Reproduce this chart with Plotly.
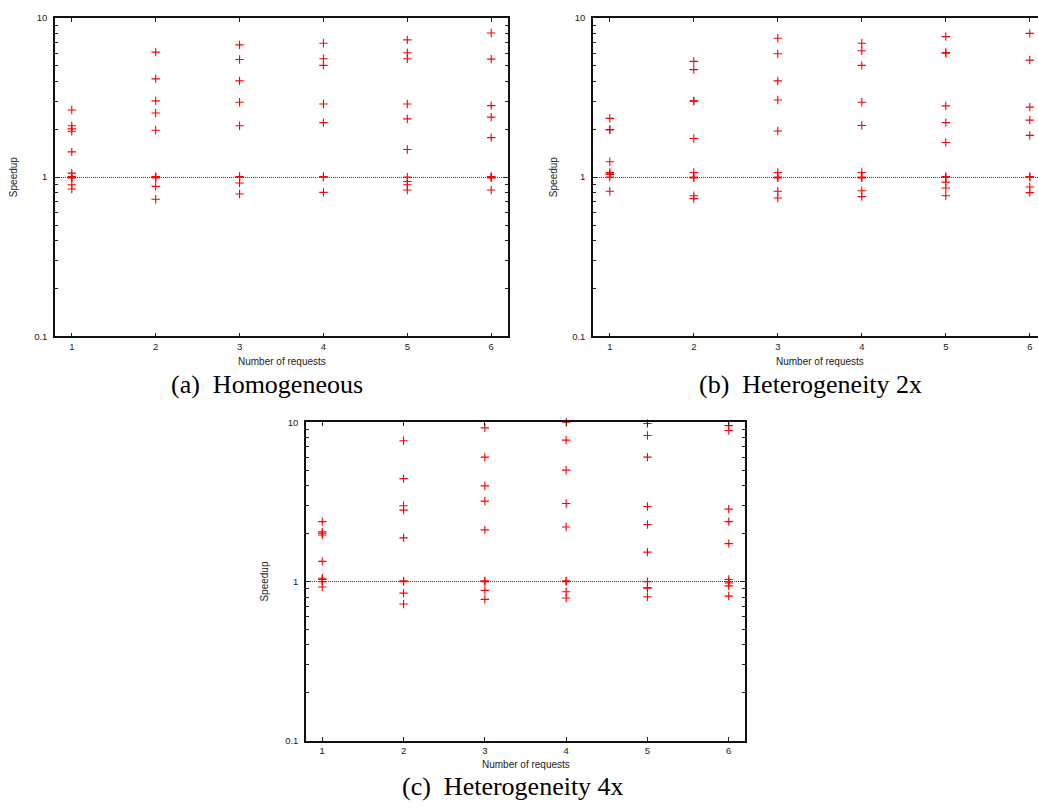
import plotly.graph_objects as go

# ---------------- data ----------------
requests = [1, 2, 3, 4, 5, 6]

homog_1 = [2.64, 2.10, 2.01, 1.94, 1.44, 1.06, 1.01, 1.0, 0.99, 0.896, 0.842]
homog_2 = [6.09, 4.14, 3.01, 2.53, 1.97, 1.01, 1.0, 0.99, 0.875, 0.727]
homog_3 = [6.77, 5.48, 4.02, 2.95, 2.10, 1.01, 1.0, 0.918, 0.784]
homog_4 = [6.92, 5.54, 5.03, 2.88, 2.20, 1.01, 1.0, 0.803]
homog_5 = [7.27, 6.04, 5.54, 2.88, 2.32, 1.49, 1.0, 0.94, 0.896, 0.83]
homog_6 = [8.03, 5.51, 2.81, 2.38, 1.77, 1.01, 1.0, 0.99, 0.83]

het2_1 = [2.34, 1.99, 1.98, 1.25, 1.07, 1.05, 1.04, 1.0, 0.815]
het2_2 = [5.33, 4.73, 3.01, 3.0, 1.75, 1.07, 1.0, 0.99, 0.765, 0.733]
het2_3 = [7.44, 5.95, 4.02, 3.05, 1.95, 1.07, 1.0, 0.99, 0.815, 0.74]
het2_4 = [6.92, 6.21, 5.03, 2.95, 2.11, 1.07, 1.0, 0.99, 0.822, 0.755]
het2_5 = [7.62, 6.06, 6.0, 2.80, 2.20, 1.65, 1.01, 1.0, 0.93, 0.855, 0.765]
het2_6 = [7.99, 5.43, 2.75, 2.28, 1.83, 1.01, 1.0, 0.867, 0.80]

het4_1 = [2.38, 2.05, 2.01, 1.96, 1.34, 1.05, 1.03, 1.0, 0.925]
het4_2 = [7.65, 4.43, 2.99, 2.81, 1.88, 1.01, 1.0, 0.846, 0.723]
het4_3 = [9.22, 6.04, 3.99, 3.20, 2.11, 1.01, 1.0, 0.88, 0.773]
het4_4 = [10.0, 7.73, 5.01, 3.09, 2.20, 1.01, 1.0, 0.863, 0.788]
het4_5 = [9.82, 8.26, 6.04, 2.96, 2.28, 1.53, 1.0, 0.918, 0.91, 0.803]
het4_6 = [9.53, 8.88, 2.85, 2.38, 1.73, 1.03, 1.0, 0.98, 0.94, 0.81]

y_tick_vals = [0.1, 1, 10]
y_tick_text = ["0.1", "1", "10"]
y_minor_vals = [0.2, 0.3, 0.4, 0.5, 0.6, 0.7, 0.8, 0.9, 2, 3, 4, 5, 6, 7, 8, 9]

x_title = "Number of requests"
y_title = "Speedup"
captions = ["(a)  Homogeneous", "(b)  Heterogeneity 2x", "(c)  Heterogeneity 4x"]

panels = [
    [homog_1, homog_2, homog_3, homog_4, homog_5, homog_6],
    [het2_1, het2_2, het2_3, het2_4, het2_5, het2_6],
    [het4_1, het4_2, het4_3, het4_4, het4_5, het4_6],
]

# ---------------- layout geometry ----------------
W, H = 1038, 810


def px_x(p):
    return p / W


def px_y(p):
    return 1 - p / H


# plot-area boxes in pixels: (left, right, top, bottom)
boxes = [(55, 508, 12, 335), (593, 1038, 12, 335), (306, 745, 422, 745)]
x_ranges = [[0.8, 6.2], [0.8, 0.8 + (1038 - 593) / 84.0], [0.8, 6.2]]

fig = go.Figure()

for i, cols in enumerate(panels):
    xs, ys = [], []
    for r, vals in zip(requests, cols):
        xs += [r] * len(vals)
        ys += vals
    suffix = "" if i == 0 else str(i + 1)
    fig.add_trace(go.Scatter(
        x=xs, y=ys, mode="markers",
        xaxis="x" + suffix, yaxis="y" + suffix,
        marker=dict(symbol="cross-thin", size=6, color="red",
                    line=dict(color="red", width=1.1)),
        cliponaxis=False, showlegend=False, hoverinfo="x+y",
    ))

tick_font = dict(family="Liberation Sans, Arial, sans-serif", size=9.5, color="#222")
layout = dict(
    width=W, height=H, margin=dict(l=0, r=0, t=0, b=0),
    paper_bgcolor="white", plot_bgcolor="white", showlegend=False,
)

for i in range(3):
    l, r, t, b = boxes[i]
    suffix = "" if i == 0 else str(i + 1)
    layout["xaxis" + suffix] = dict(
        domain=[px_x(l), px_x(r)], range=x_ranges[i],
        anchor="y" + suffix, tickvals=requests,
        ticks="inside", ticklen=4, tickcolor="#222", tickwidth=1,
        showline=True, linecolor="#111", linewidth=1.5,
        mirror="ticks", showgrid=False, zeroline=False,
        tickfont=tick_font,
    )
    layout["yaxis" + suffix] = dict(
        domain=[px_y(b), px_y(t)], type="log", range=[-1, 1],
        anchor="x" + suffix, tickmode="array",
        tickvals=y_tick_vals, ticktext=y_tick_text,
        ticks="inside", ticklen=5, tickcolor="#222", tickwidth=1,
        showline=True, linecolor="#111", linewidth=1.5,
        mirror=("ticks" if i != 1 else False),
        showgrid=True, gridcolor="#444", gridwidth=1, griddash="1px,1px",
        zeroline=False, tickfont=tick_font, ticklabelstandoff=4,
        minor=dict(tickmode="array", tickvals=y_minor_vals, ticks="inside",
                   ticklen=3, tickcolor="#222", tickwidth=1, showgrid=False),
    )

annotations = []
label_font = dict(family="Liberation Sans, Arial, sans-serif", size=10, color="#222")
speed_x = [13, 553, 265]
for i in range(3):
    l, r, t, b = boxes[i]
    annotations.append(dict(
        text=y_title, xref="paper", yref="paper",
        x=px_x(speed_x[i]), y=px_y((t + b) / 2), textangle=-90,
        showarrow=False, font=label_font, xanchor="center", yanchor="middle",
    ))
title_pos = [(281.5, 360), (820, 360), (525.5, 769)]
for (cx, cy) in title_pos:
    annotations.append(dict(
        text=x_title, xref="paper", yref="paper", x=px_x(cx), y=px_y(cy),
        showarrow=False, font=label_font, xanchor="center", yanchor="middle",
    ))
cap_pos = [(267, 384), (810, 384), (512.5, 791)]
for cap, (cx, cy) in zip(captions, cap_pos):
    annotations.append(dict(
        text=cap, xref="paper", yref="paper", x=px_x(cx), y=px_y(cy),
        showarrow=False, xanchor="center", yanchor="middle",
        font=dict(family="Liberation Serif, Times New Roman, serif", size=26, color="black"),
    ))
layout["annotations"] = annotations

fig.update_layout(**layout)
fig.write_html("out.html")
